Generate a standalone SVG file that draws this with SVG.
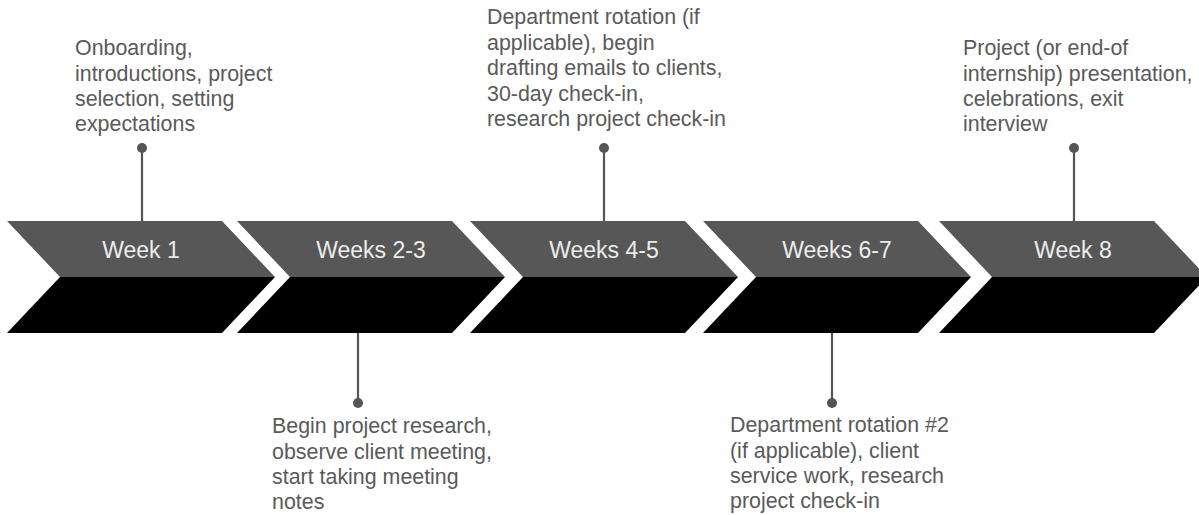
<svg xmlns="http://www.w3.org/2000/svg" width="1199" height="515" viewBox="0 0 1199 515">
  <style>
    .top { fill: #575757; }
    .bot { fill: #000000; }
    .lbl { font-family: "Liberation Sans", Arial, sans-serif; font-size: 23px; fill: #ececec; text-anchor: middle; }
    .note { font-family: "Liberation Sans", Arial, sans-serif; font-size: 21.4px; fill: #5a5a5a; }
    .stem { stroke: #555555; stroke-width: 2.2; fill: none; }
    .dot { fill: #555555; }
  </style>
  <defs>
    <!-- one chevron segment: grey upper half, black lower half -->
    <g id="chev">
      <polygon class="top" points="0,221 215,221 268,277 53,277"/>
      <polygon class="bot" points="53,277 268,277 215,333 0,333"/>
    </g>
  </defs>

  <rect width="1199" height="515" fill="#ffffff"/>

  <!-- connectors from the timeline to each note -->
  <g id="connectors">
    <line class="stem" x1="142" y1="148" x2="142" y2="221"/>
    <circle class="dot" cx="142" cy="148" r="5"/>
    <line class="stem" x1="358" y1="333" x2="358" y2="403"/>
    <circle class="dot" cx="358" cy="403" r="5"/>
    <line class="stem" x1="604" y1="148" x2="604" y2="221"/>
    <circle class="dot" cx="604" cy="148" r="5"/>
    <line class="stem" x1="832" y1="333" x2="832" y2="403"/>
    <circle class="dot" cx="832" cy="403" r="5"/>
    <line class="stem" x1="1074" y1="148" x2="1074" y2="221"/>
    <circle class="dot" cx="1074" cy="148" r="5"/>
  </g>

  <g id="week1">
    <use href="#chev" x="7"/>
    <text class="lbl" x="141" y="258">Week 1</text>
    <text class="note">
      <tspan x="75" y="55">Onboarding,</tspan>
      <tspan x="75" y="80.5">introductions, project</tspan>
      <tspan x="75" y="106">selection, setting</tspan>
      <tspan x="75" y="131">expectations</tspan>
    </text>
  </g>

  <g id="weeks2-3">
    <use href="#chev" x="237"/>
    <text class="lbl" x="371" y="258">Weeks 2-3</text>
    <text class="note">
      <tspan x="272" y="433">Begin project research,</tspan>
      <tspan x="272" y="458.5">observe client meeting,</tspan>
      <tspan x="272" y="484">start taking meeting</tspan>
      <tspan x="272" y="509">notes</tspan>
    </text>
  </g>

  <g id="weeks4-5">
    <use href="#chev" x="470"/>
    <text class="lbl" x="604" y="258">Weeks 4-5</text>
    <text class="note">
      <tspan x="487" y="24">Department rotation (if</tspan>
      <tspan x="487" y="49.5">applicable), begin</tspan>
      <tspan x="487" y="75">drafting emails to clients,</tspan>
      <tspan x="487" y="100.5">30-day check-in,</tspan>
      <tspan x="487" y="126">research project check-in</tspan>
    </text>
  </g>

  <g id="weeks6-7">
    <use href="#chev" x="703"/>
    <text class="lbl" x="837" y="258">Weeks 6-7</text>
    <text class="note">
      <tspan x="730" y="432">Department rotation #2</tspan>
      <tspan x="730" y="458">(if applicable), client</tspan>
      <tspan x="730" y="483">service work, research</tspan>
      <tspan x="730" y="508">project check-in</tspan>
    </text>
  </g>

  <g id="week8">
    <use href="#chev" x="939"/>
    <text class="lbl" x="1073" y="258">Week 8</text>
    <text class="note">
      <tspan x="963" y="55">Project (or end-of</tspan>
      <tspan x="963" y="80.5">internship) presentation,</tspan>
      <tspan x="963" y="106">celebrations, exit</tspan>
      <tspan x="963" y="131">interview</tspan>
    </text>
  </g>
</svg>
